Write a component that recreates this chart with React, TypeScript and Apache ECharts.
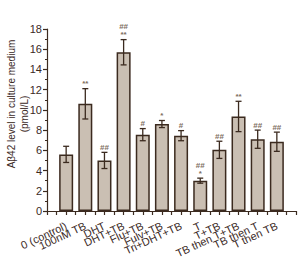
import React, { useEffect, useRef } from "react";
import * as echarts from "echarts";

const categories = [
  "0 (control)",
  "100nM TB",
  "DHT",
  "DHT+TB",
  "Flu+TB",
  "Fulv+TB",
  "Tri+DHT+TB",
  "T",
  "T+TB",
  "TB then T+TB",
  "TB then T",
  "T then TB",
];
const means = [5.6, 10.6, 5.0, 15.7, 7.55, 8.6, 7.45, 3.0, 6.05, 9.35, 7.1, 6.85];
const errors = [0.8, 1.5, 0.8, 1.25, 0.6, 0.35, 0.5, 0.25, 0.85, 1.5, 0.9, 0.95];
const marks = ["", "**", "##", "##\n**", "#", "*", "#", "##\n*", "##", "**", "##", "##"];
const yTicks = [0, 2, 4, 6, 8, 10, 12, 14, 16, 18];

const DARK = "#3b2a1f";
const FILL = "#cabfb3";
const MARK = "#7d6d60";
const FONT = "Liberation Sans, Arial, sans-serif";

export default function App() {
  const ref = useRef<HTMLDivElement>(null);
  useEffect(() => {
    if (!ref.current) return;
    document.body.style.margin = "0";
    const chart = echarts.init(ref.current, undefined, { renderer: "svg" });
    const barData = means.map((v, i) => [i + 1, v]);
    const errData = means.map((v, i) => [i + 1, v - errors[i], v + errors[i], i]);
    chart.setOption({
      animation: false,
      textStyle: { fontFamily: FONT },
      grid: { left: 47, right: 4, top: 29, bottom: 59, containLabel: false },
      xAxis: {
        type: "value",
        min: 0,
        max: 13,
        interval: 1,
        splitLine: { show: false },
        axisLine: { show: true, lineStyle: { color: DARK, width: 1.2 } },
        axisTick: { show: true, length: 4, lineStyle: { color: DARK, width: 1.2 } },
        minorTick: { show: true, splitNumber: 2, length: 4, lineStyle: { color: DARK, width: 1.2 } },
        axisLabel: {
          rotate: 25,
          margin: 14,
          fontSize: 11,
          color: DARK,
          fontFamily: FONT,
          interval: 0,
          formatter: (v: number) => (v >= 1 && v <= 12 ? categories[v - 1] : ""),
        },
      },
      yAxis: {
        type: "value",
        min: yTicks[0],
        max: yTicks[yTicks.length - 1],
        interval: 2,
        splitLine: { show: false },
        axisLine: { show: true, lineStyle: { color: DARK, width: 1.2 } },
        axisTick: { show: true, length: 4, lineStyle: { color: DARK, width: 1.2 } },
        minorTick: { show: true, splitNumber: 2, length: 2, lineStyle: { color: DARK, width: 1.2 } },
        axisLabel: { fontSize: 11, color: DARK, margin: 5, fontFamily: FONT },
      },
      graphic: [
        {
          type: "text",
          x: 11,
          y: 104,
          rotation: Math.PI / 2,
          style: {
            text: "Aβ42 level in culture medium",
            fontSize: 10,
            fontFamily: FONT,
            fill: DARK,
            align: "center",
            verticalAlign: "middle",
          },
        },
        {
          type: "text",
          x: 24,
          y: 114,
          rotation: Math.PI / 2,
          style: {
            text: "(pmol/L)",
            fontSize: 10,
            fontFamily: FONT,
            fill: DARK,
            align: "center",
            verticalAlign: "middle",
          },
        },
      ],
      series: [
        {
          type: "bar",
          data: barData,
          barWidth: 14,
          itemStyle: { color: FILL, borderColor: DARK, borderWidth: 1.5 },
        },
        {
          type: "custom",
          data: errData,
          z: 5,
          renderItem: (params: any, api: any) => {
            const x = api.value(0);
            const lo = api.coord([x, api.value(1)]);
            const hi = api.coord([x, api.value(2)]);
            const idx = api.value(3);
            const cap = 3;
            const lineStyle = { stroke: DARK, lineWidth: 1.3 };
            const children: any[] = [
              { type: "line", shape: { x1: hi[0], y1: hi[1], x2: lo[0], y2: lo[1] }, style: lineStyle },
              { type: "line", shape: { x1: hi[0] - cap, y1: hi[1], x2: hi[0] + cap, y2: hi[1] }, style: lineStyle },
              { type: "line", shape: { x1: lo[0] - cap, y1: lo[1], x2: lo[0] + cap, y2: lo[1] }, style: lineStyle },
            ];
            const m = marks[idx];
            if (m) {
              children.push({
                type: "text",
                x: hi[0],
                y: hi[1] - 1,
                style: {
                  text: m,
                  fontSize: 8,
                  lineHeight: 8,
                  fontFamily: FONT,
                  fontWeight: "bold",
                  fill: MARK,
                  align: "center",
                  verticalAlign: "bottom",
                },
              });
            }
            return { type: "group", children };
          },
        },
      ],
    });
    return () => chart.dispose();
  }, []);
  return <div ref={ref} style={{ width: 300, height: 270 }} />;
}
